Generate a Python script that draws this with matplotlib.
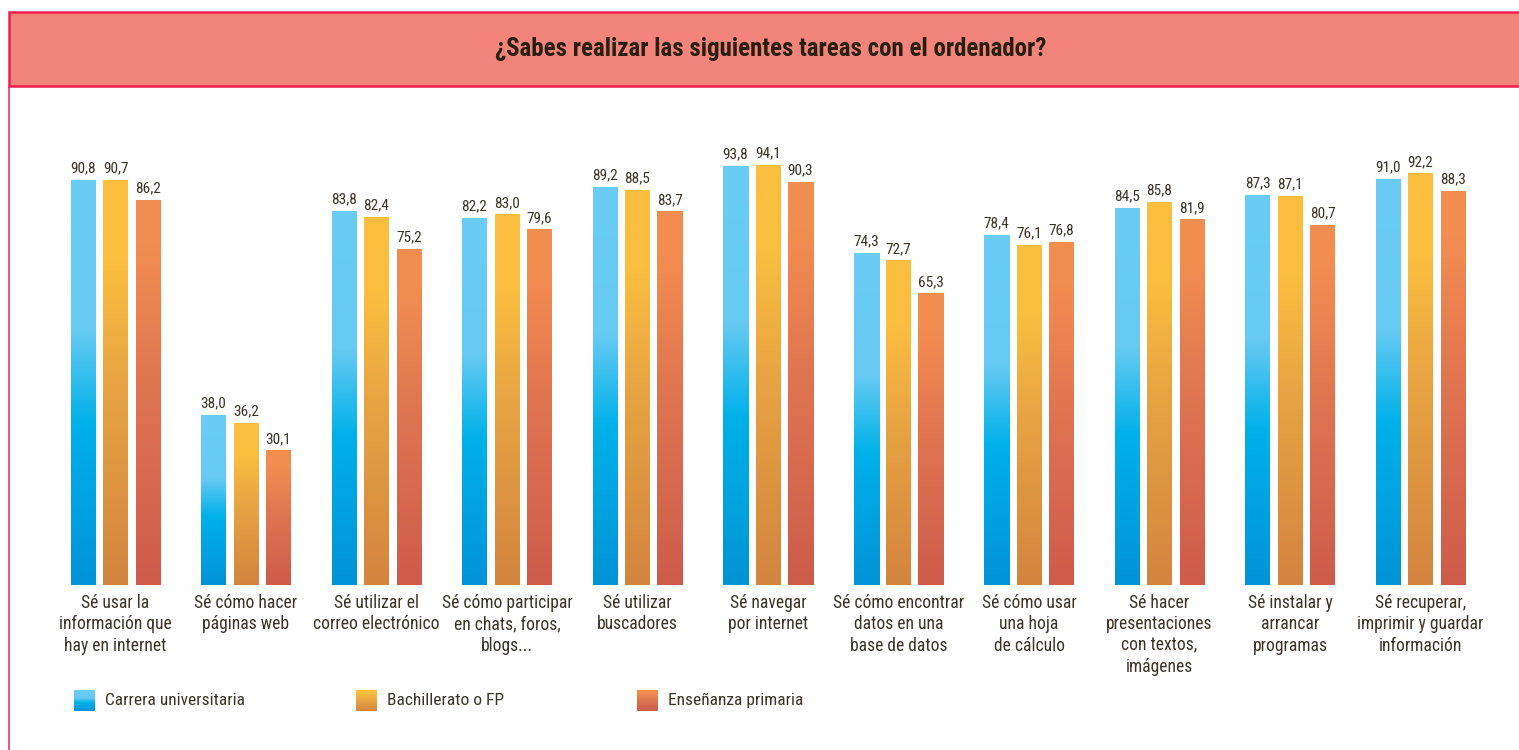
import numpy as np
import matplotlib
matplotlib.use("Agg")
import matplotlib.pyplot as plt
from matplotlib import font_manager as fm
from matplotlib.colors import LinearSegmentedColormap
from matplotlib.patches import Rectangle
from matplotlib.lines import Line2D

# ---------------- data ----------------
categories = [
    "Sé usar la\ninformación que\nhay en internet",
    "Sé cómo hacer\npáginas web",
    "Sé utilizar el\ncorreo electrónico",
    "Sé cómo participar\nen chats, foros,\nblogs...",
    "Sé utilizar\nbuscadores",
    "Sé navegar\npor internet",
    "Sé cómo encontrar\ndatos en una\nbase de datos",
    "Sé cómo usar\nuna hoja\nde cálculo",
    "Sé hacer\npresentaciones\ncon textos,\nimágenes",
    "Sé instalar y\narrancar\nprogramas",
    "Sé recuperar,\nimprimir y guardar\ninformación",
]
series_names = ["Carrera universitaria", "Bachillerato o FP", "Enseñanza primaria"]
universitaria = [90.8, 38.0, 83.8, 82.2, 89.2, 93.8, 74.3, 78.4, 84.5, 87.3, 91.0]
bachillerato = [90.7, 36.2, 82.4, 83.0, 88.5, 94.1, 72.7, 76.1, 85.8, 87.1, 92.2]
primaria = [86.2, 30.1, 75.2, 79.6, 83.7, 90.3, 65.3, 76.8, 81.9, 80.7, 88.3]
title = "¿Sabes realizar las siguientes tareas con el ordenador?"

# ---------------- fonts: pick the narrowest suitable family ----------------
entries = [(f.name, str(f.stretch)) for f in fm.fontManager.ttflist]
def has(name, stretch=None):
    return any(n == name and (stretch is None or s == stretch) for n, s in entries)

if has("Roboto Condensed"):
    FAM, STRETCH = "Roboto Condensed", "normal"
elif has("Liberation Sans Narrow"):
    FAM, STRETCH = "Liberation Sans Narrow", "normal"
elif has("Noto Sans", "condensed"):
    FAM, STRETCH = "Noto Sans", "condensed"
elif has("DejaVu Sans", "condensed"):
    FAM, STRETCH = "DejaVu Sans", "condensed"
else:
    FAM, STRETCH = "DejaVu Sans", "normal"
plt.rcParams["font.family"] = [FAM, "DejaVu Sans"]

TXT = "#3a3326"

# ---------------- figure ----------------
W, H = 1519, 750
fig = plt.figure(figsize=(W / 100, H / 100), dpi=100)
ax = fig.add_axes([0, 0, 1, 1])
renderer = fig.canvas.get_renderer()

def fit_size(sample, target_px, weight="normal"):
    t = fig.text(0, 0, sample, fontsize=10, fontweight=weight, fontstretch=STRETCH)
    w = t.get_window_extent(renderer).width
    t.remove()
    return 10 * target_px / w

FS_VAL = min(fit_size("90,8", 25.5), 11.5)
FS_CAT = min(fit_size("Sé cómo participar", 130), 13)
FS_LEG = min(fit_size("Carrera universitaria", 138), 13)
FS_TIT = min(fit_size(title, 551, "bold"), 18)
LINE_PX = 22.0
CAT_LS = LINE_PX / (FS_CAT * 100 / 72)

PX_X0, PX_DX = 115.5, 130.5   # group centre pixel, group spacing
PX_Y0, PX_DY = 585.0, 4.46    # baseline pixel, px per unit
XL = (-PX_X0 / PX_DX, (W - PX_X0) / PX_DX)
YL = (-(H - PX_Y0) / PX_DY, PX_Y0 / PX_DY)
ax.axis("off")

def dx(px):
    return (px - PX_X0) / PX_DX

def dy(py):
    return (PX_Y0 - py) / PX_DY

cmaps = [
    LinearSegmentedColormap.from_list("b", [(0, "#0093d6"), (0.40, "#00b1e9"), (0.63, "#67caf3"), (1, "#6bcdf5")]),
    LinearSegmentedColormap.from_list("y", [(0, "#d3843f"), (0.5, "#e8a443"), (0.80, "#fbbe3f"), (1, "#fbbe40")]),
    LinearSegmentedColormap.from_list("o", [(0, "#cd5c4b"), (0.5, "#df7451"), (0.88, "#f28d50"), (1, "#f28e50")]),
]
grad = np.linspace(0, 1, 256).reshape(-1, 1)

bw = 25 / PX_DX
off = 32.5 / PX_DX
x = np.arange(len(categories))
for s, vals in enumerate([universitaria, bachillerato, primaria]):
    for i, v in enumerate(vals):
        xc = x[i] + (s - 1) * off
        ax.imshow(grad, extent=(xc - bw / 2, xc + bw / 2, 0, v), origin="lower",
                  aspect="auto", cmap=cmaps[s], interpolation="bilinear", zorder=2)
        ax.annotate(f"{v:.1f}".replace(".", ","), (xc, v), xytext=(0, 3.5),
                    textcoords="offset points", ha="center", va="bottom",
                    fontsize=FS_VAL, color=TXT, fontstretch=STRETCH, zorder=3)

for i, c in enumerate(categories):
    ax.text(x[i], dy(593.5), c, ha="center", va="top", fontsize=FS_CAT, color=TXT,
            linespacing=CAT_LS, fontstretch=STRETCH)

# legend
leg_px = [74, 356, 637]
for s, name in enumerate(series_names):
    x0 = dx(leg_px[s])
    ax.imshow(grad, extent=(x0, dx(leg_px[s] + 21), dy(711), dy(690)), origin="lower",
              aspect="auto", cmap=cmaps[s], interpolation="bilinear", zorder=2)
    ax.text(dx(leg_px[s] + 31), dy(700.5), name, ha="left", va="center",
            fontsize=FS_LEG, color=TXT, fontstretch=STRETCH)

ax.set_xlim(*XL)
ax.set_ylim(*YL)

# frame and title band (figure pixel coordinates)
def fx(px):
    return px / W

def fy(py):
    return 1 - py / H

BORDER = "#ee1f4e"
fig.patches.append(Rectangle((fx(9), fy(86)), fx(W + 20) - fx(9), fy(12) - fy(86),
                             transform=fig.transFigure, facecolor="#f3847c",
                             edgecolor=BORDER, linewidth=1.8, zorder=5))
fig.lines.append(Line2D([fx(9), fx(9)], [fy(86), fy(H + 5)], transform=fig.transFigure,
                        color="#e84a6e", linewidth=1.3, zorder=5))
fig.text(fx(771), fy(49), title, ha="center", va="center", fontsize=FS_TIT,
         fontweight="bold", color="#2a1e10", fontstretch=STRETCH, zorder=6)

fig.savefig("out.png", dpi=100)
